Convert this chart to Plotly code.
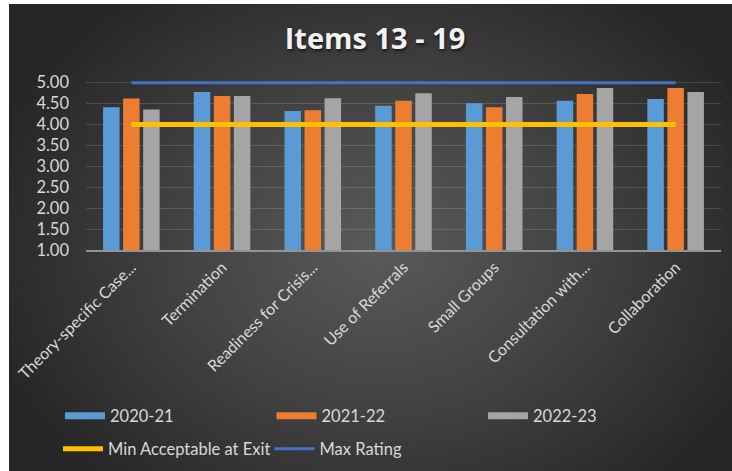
import base64
import plotly.graph_objects as go

# ---- data -------------------------------------------------------------
categories = [
    "Theory-specific Case...",
    "Termination",
    "Readiness for Crisis...",
    "Use of Referrals",
    "Small Groups",
    "Consultation with...",
    "Collaboration",
]
scores_2020_21 = [4.41, 4.78, 4.32, 4.45, 4.51, 4.57, 4.61]
scores_2021_22 = [4.62, 4.68, 4.34, 4.57, 4.41, 4.73, 4.87]
scores_2022_23 = [4.36, 4.68, 4.63, 4.75, 4.66, 4.87, 4.78]
min_acceptable = [4.00, 4.00, 4.00, 4.00, 4.00, 4.00, 4.00]
max_rating = [5.00, 5.00, 5.00, 5.00, 5.00, 5.00, 5.00]
y_ticks = [1.00, 1.50, 2.00, 2.50, 3.00, 3.50, 4.00, 4.50, 5.00]

# ---- geometry / style -------------------------------------------------
W, H = 732, 471
ML, MR, MT, MB = 86, 11, 81, 221
PW, PH = W - ML - MR, H - MT - MB
Y_RANGE = [1, 5.04]          # a little headroom so the 5.00 line is not clipped
FONT = "Lato, 'Open Sans', sans-serif"
TXT = "#d9d9d9"
BAR_COLORS = ["#5B9BD5", "#ED7D31", "#A5A5A5"]


def px_to_paper_x(px):
    return (px - ML) / PW


def px_to_paper_y(py):
    return (H - MB - py) / PH


# page background: thin white strip on the left/top, dark radial-gradient card
# (the image is made a bit larger than the page so it always reaches the edges)
BW, BH = W + 24, H + 24
card_x0, card_y0 = 9, 4
gcx, gcy = (card_x0 + W) / 2 + 10, (card_y0 + H) / 2 + 10
svg = f"""<svg xmlns='http://www.w3.org/2000/svg' width='{BW}' height='{BH}' viewBox='0 0 {BW} {BH}' preserveAspectRatio='none'>
<defs><radialGradient id='g' gradientUnits='userSpaceOnUse' cx='{gcx}' cy='{gcy}' r='{W * 0.56}' gradientTransform='translate(0 {gcy}) scale(1 0.78) translate(0 {-gcy})'>
<stop offset='0%' stop-color='#5a5a5a'/>
<stop offset='50%' stop-color='#424242'/>
<stop offset='100%' stop-color='#262626'/>
</radialGradient></defs>
<rect x='0' y='0' width='{BW}' height='{BH}' fill='#ffffff'/>
<rect x='{card_x0}' y='{card_y0}' width='{BW - card_x0}' height='{BH - card_y0}' fill='url(#g)'/></svg>"""
bg_src = "data:image/svg+xml;base64," + base64.b64encode(svg.encode()).decode()

fig = go.Figure()

series = [("2020-21", scores_2020_21), ("2021-22", scores_2021_22), ("2022-23", scores_2022_23)]
for (name, vals), color in zip(series, BAR_COLORS):
    fig.add_trace(go.Bar(
        x=categories, y=vals, name=name, marker_color=color,
        marker_line_width=0, legendgroup=name, showlegend=False,
    ))

# wide legend swatches for the bar series
for (name, _), color in zip(series, BAR_COLORS):
    fig.add_trace(go.Scatter(
        x=[None], y=[None], mode="lines", name=name, legendgroup=name,
        line=dict(color=color, width=7), legend="legend", hoverinfo="skip",
    ))

fig.add_trace(go.Scatter(
    x=categories, y=min_acceptable, mode="lines", name="Min Acceptable at Exit",
    line=dict(color="#FFC000", width=5), legend="legend2",
))
fig.add_trace(go.Scatter(
    x=categories, y=max_rating, mode="lines", name="Max Rating",
    line=dict(color="#4472C4", width=3), legend="legend2",
))

legend_common = dict(
    orientation="h", xanchor="left", yanchor="middle",
    entrywidthmode="pixels", entrywidth=156.5,
    font=dict(family=FONT, size=16.5, color=TXT),
    bgcolor="rgba(0,0,0,0)", traceorder="normal", itemwidth=40,
)

fig.update_layout(
    width=W, height=H,
    margin=dict(l=ML, r=MR, t=MT, b=MB, pad=0, autoexpand=False),
    paper_bgcolor="#262626",
    plot_bgcolor="rgba(0,0,0,0)",
    font=dict(family=FONT, color=TXT),
    title=dict(
        text="<b>Items 13 - 19</b>", x=375 / W, xanchor="center",
        y=1 - 39 / H, yanchor="middle", yref="container",
        font=dict(family="'Open Sans', sans-serif", size=29, color="#f2f2f2",
                  shadow="1px 2px 3px rgba(0,0,0,0.6)"),
    ),
    barmode="group", bargap=0.337, bargroupgap=0.177,
    showlegend=True,
    legend=dict(x=px_to_paper_x(60), y=px_to_paper_y(416), **legend_common),
    legend2=dict(x=px_to_paper_x(58), y=px_to_paper_y(449), **legend_common),
    images=[dict(
        source=bg_src, xref="paper", yref="paper",
        x=px_to_paper_x(0), y=px_to_paper_y(0),
        sizex=BW / PW, sizey=BH / PH,
        xanchor="left", yanchor="top", sizing="stretch", layer="below",
    )],
)

fig.update_yaxes(
    range=Y_RANGE, tickvals=y_ticks, tickformat=".2f",
    showgrid=True, gridcolor="rgba(255,255,255,0.14)", gridwidth=1,
    zeroline=False, showline=False, ticks="",
    tickfont=dict(family=FONT, size=16.5, color=TXT),
    ticklabelstandoff=16,
)
fig.update_xaxes(
    showline=True, linecolor="#939393", linewidth=1.5,
    ticks="", tickangle=-45,
    tickfont=dict(family=FONT, size=16, color=TXT),
    showgrid=False,
)

fig.write_html("out.html")
